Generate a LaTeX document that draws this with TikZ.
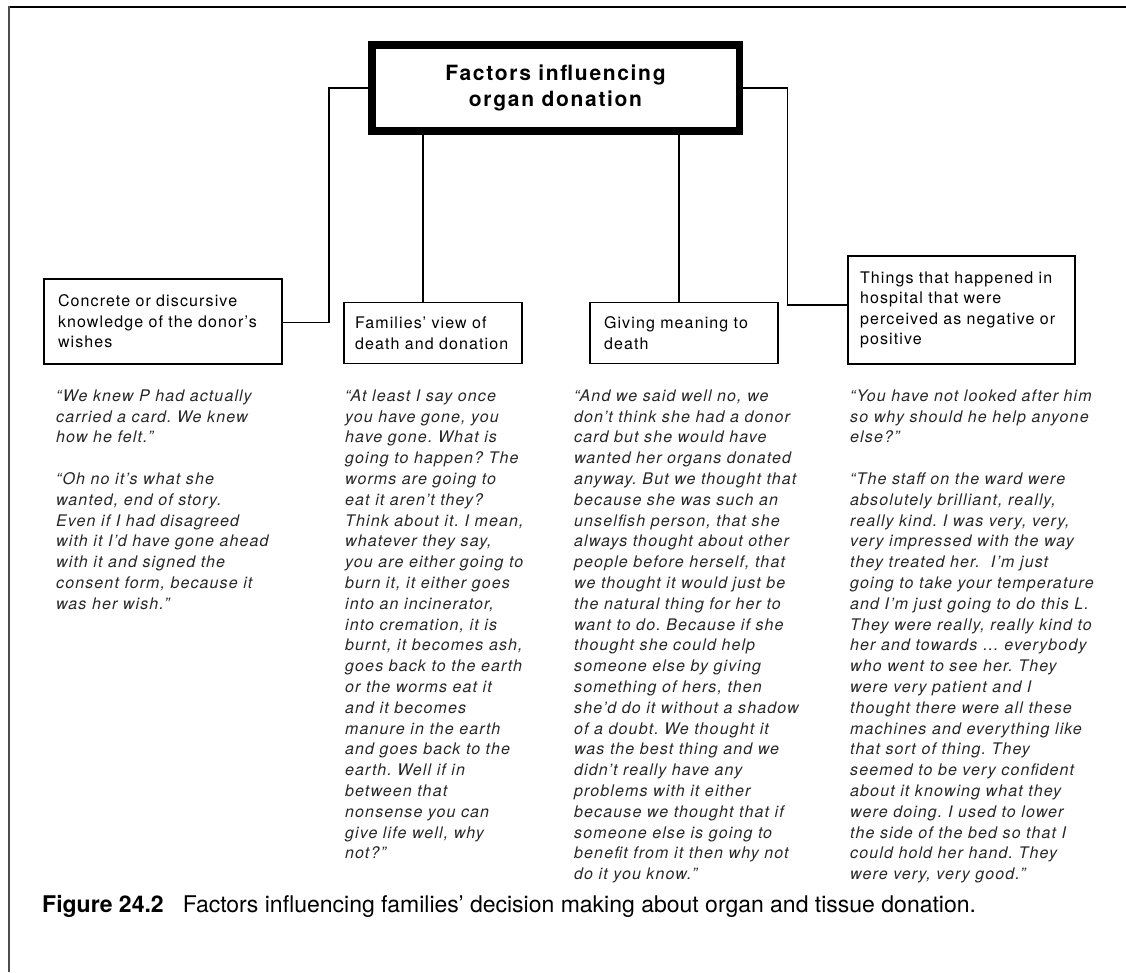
\documentclass[tikz,border=0pt]{standalone}
\usepackage{fontspec}
\setmainfont{TeX Gyre Heros}
\newfontfamily\boxfont{TeX Gyre Heros}[LetterSpace=7]
\newfontfamily\quotefont{TeX Gyre Heros}[LetterSpace=7]
\newfontfamily\headfont{TeX Gyre Heros}[LetterSpace=8]
\newfontfamily\capfont{TeX Gyre Heros}
\frenchspacing
% fixed height of the first line of every quote block
\newcommand{\firstgap}{\rule{0pt}{14pt}}

\tikzset{
  frameline/.style={line width=2pt},
  titlebox/.style={draw, line width=7.5pt, outer sep=0pt, inner sep=0pt,
    minimum width=367.5pt, minimum height=86pt, align=center,
    font=\headfont\bfseries\fontsize{21}{25.5}\selectfont},
  catbox/.style={draw, line width=1.6pt, outer sep=0pt, inner xsep=14pt,
    inner ysep=0pt, align=left, font=\boxfont\fontsize{16}{20.6}\selectfont},
  link/.style={line width=1.6pt},
  quoteblock/.style={anchor=north west, inner sep=0pt, align=left,
    text=black!85, font=\quotefont\itshape\fontsize{16}{20.8}\selectfont},
}

\begin{document}
\begin{tikzpicture}[x=1pt,y=-1pt]
\useasboundingbox (0,0) rectangle (1126,972);

% page frame: top and left rules
\draw[frameline, black] (8,6.5) -- (1126,6.5);
\draw[frameline, black!70] (8.5,6) -- (8.5,972);

% central heading
\node[titlebox] (main) at (555.5,87.75) {Factors influencing\\organ donation};

% the four categories
\node[catbox, minimum width=238pt, minimum height=85pt, text width=210pt] (b1) at (163,321.5)
  {Concrete or discursive\\knowledge of the donor’s\\wishes};
\node[catbox, inner xsep=11pt, minimum width=178pt, minimum height=61pt, text width=156pt] (b2) at (433,333)
  {Families’ view of\\death and donation};
\node[catbox, minimum width=188pt, minimum height=61pt, text width=160pt] (b3) at (684,333)
  {Giving meaning to\\death};
\node[catbox, inner xsep=12pt, minimum width=227pt, minimum height=108pt, text width=203pt] (b4) at (961.5,310)
  {Things that happened in\\hospital that were\\perceived as negative or\\positive};

% bends of the connectors
\coordinate (k1) at (329,87.75);
\coordinate (k2) at (423,0);
\coordinate (k3) at (679,0);
\coordinate (k4) at (787.5,87.75);

\draw[link] (main.west) -- (k1) |- ([yshift=-1pt]b1.east);
\draw[link] (main.south -| k2) -- (b2.north -| k2);
\draw[link] (main.south -| k3) -- (b3.north -| k3);
\draw[link] (main.east) -- (k4) |- ([yshift=5pt]b4.west);

% quotations
\node[quoteblock] (q1) at (56,387) {\firstgap“We knew P had actually\\
carried a card. We knew\\
how he felt.”\\
\mbox{}\\
“Oh no it’s what she\\
wanted, end of story.\\
Even if I had disagreed\\
with it I’d have gone ahead\\
with it and signed the\\
consent form, because it\\
was her wish.”};

\node[quoteblock] (q2) at (345,387) {\firstgap“At least I say once\\
you have gone, you\\
have gone. What is\\
going to happen? The\\
worms are going to\\
eat it aren’t they?\\
Think about it. I mean,\\
whatever they say,\\
you are either going to\\
burn it, it either goes\\
into an incinerator,\\
into cremation, it is\\
burnt, it becomes ash,\\
goes back to the earth\\
or the worms eat it\\
and it becomes\\
manure in the earth\\
and goes back to the\\
earth. Well if in\\
between that\\
nonsense you can\\
give life well, why\\
not?”};

\node[quoteblock] (q3) at (574,387) {\firstgap“And we said well no, we\\
don’t think she had a donor\\
card but she would have\\
wanted her organs donated\\
anyway. But we thought that\\
because she was such an\\
unselfish person, that she\\
always thought about other\\
people before herself, that\\
we thought it would just be\\
the natural thing for her to\\
want to do. Because if she\\
thought she could help\\
someone else by giving\\
something of hers, then\\
she’d do it without a shadow\\
of a doubt. We thought it\\
was the best thing and we\\
didn’t really have any\\
problems with it either\\
because we thought that if\\
someone else is going to\\
benefit from it then why not\\
do it you know.”};

\node[quoteblock] (q4) at (850,387) {\firstgap“You have not looked after him\\
so why should he help anyone\\
else?”\\
\mbox{}\\
“The staff on the ward were\\
absolutely brilliant, really,\\
really kind. I was very, very,\\
very impressed with the way\\
they treated her.\ \ I’m just\\
going to take your temperature\\
and I’m just going to do this L.\\
They were really, really kind to\\
her and towards … everybody\\
who went to see her. They\\
were very patient and I\\
thought there were all these\\
machines and everything like\\
that sort of thing. They\\
seemed to be very confident\\
about it knowing what they\\
were doing. I used to lower\\
the side of the bed so that I\\
could hold her hand. They\\
were very, very good.”};

% caption
\node[anchor=base west, inner sep=0pt, font=\capfont\fontsize{23}{27}\selectfont] (cap) at (42,912)
  {\textbf{Figure 24.2}\hspace{19pt}Factors influencing families’ decision making about organ and tissue donation.};
\end{tikzpicture}
\end{document}
